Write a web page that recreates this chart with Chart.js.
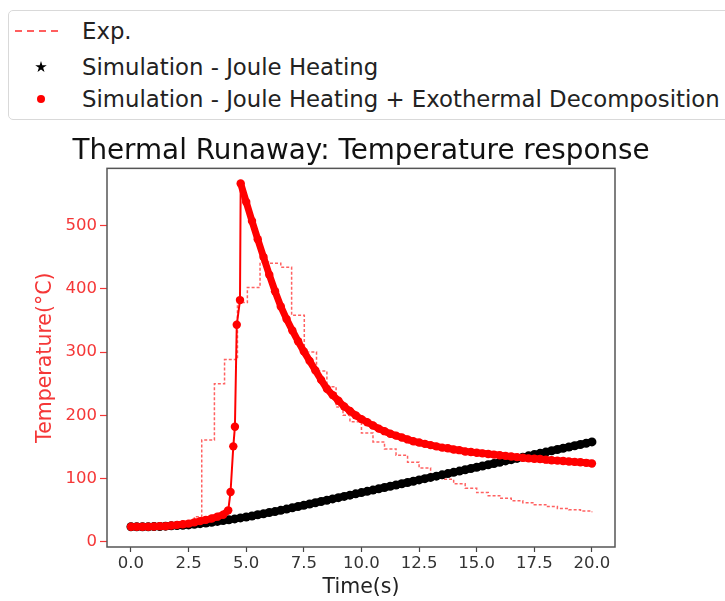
<!DOCTYPE html>
<html>
<head>
<meta charset="utf-8">
<script src="https://cdn.jsdelivr.net/npm/chart.js@4.4.1/dist/chart.umd.min.js"></script>
<style>
  body { margin: 0; background: #fff; font-family: "DejaVu Sans", sans-serif; }
  #wrap { position: relative; width: 725px; height: 601px; overflow: hidden; }
  #legend { position: absolute; left: 8px; top: 10px; width: 740px; height: 110px;
            border: 1px solid #d9d9d9; border-radius: 5px; box-sizing: border-box; background: #fff; }
  .row { position: absolute; left: 0; width: 730px; height: 30px; }
  .row .txt { position: absolute; left: 73px; top: 0; line-height: 30px; font-size: 22.8px; color: #222; white-space: nowrap; }
  .dash { position: absolute; left: 6px; top: 14px; width: 46px; height: 2px;
          background: repeating-linear-gradient(90deg, rgba(255,40,40,0.75) 0 7px, transparent 7px 12px); }
  .star { position: absolute; left: 26px; top: 9px; width: 12px; height: 12px; background: #000;
          clip-path: polygon(50% 0%, 61% 35%, 98% 35%, 68% 57%, 79% 91%, 50% 70%, 21% 91%, 32% 57%, 2% 35%, 39% 35%); }
  .dot { position: absolute; left: 28px; top: 11px; width: 8px; height: 8px; border-radius: 50%; background: #f00; }
  canvas { position: absolute; left: 0; top: 0; }
</style>
</head>
<body>
<div id="wrap">
  <canvas id="runawayChart" width="725" height="601"></canvas>
  <div id="legend">
    <div class="row" style="top:5px"><div class="dash"></div><span class="txt">Exp.</span></div>
    <div class="row" style="top:41px"><div class="star"></div><span class="txt">Simulation - Joule Heating</span></div>
    <div class="row" style="top:73px"><div class="dot"></div><span class="txt">Simulation - Joule Heating + Exothermal Decomposition</span></div>
  </div>
</div>
<script>
// values
const simTime = [0, 0.25, 0.5, 0.75, 1, 1.25, 1.5, 1.75, 2, 2.25, 2.5, 2.75, 3, 3.25, 3.5, 3.75, 4, 4.25, 4.5, 4.75,
  5, 5.25, 5.5, 5.75, 6, 6.25, 6.5, 6.75, 7, 7.25, 7.5, 7.75, 8, 8.25, 8.5, 8.75, 9, 9.25, 9.5, 9.75,
  10, 10.25, 10.5, 10.75, 11, 11.25, 11.5, 11.75, 12, 12.25, 12.5, 12.75, 13, 13.25, 13.5, 13.75, 14, 14.25, 14.5, 14.75,
  15, 15.25, 15.5, 15.75, 16, 16.25, 16.5, 16.75, 17, 17.25, 17.5, 17.75, 18, 18.25, 18.5, 18.75, 19, 19.25, 19.5, 19.75, 20];
const jouleTemp = [24, 24, 24, 24, 24.5, 24.5, 25, 25.5, 26, 26.5, 27, 28, 29, 30, 31, 32.5, 34, 35, 36.5, 38,
  39.5, 41, 43, 44.5, 46.5, 48, 50, 52, 54, 56, 58, 60, 62, 64, 66, 68, 70, 72, 74, 76,
  78, 80, 82, 84, 86, 88, 90, 92, 94, 96, 98, 100, 102, 104, 106, 108, 110, 112, 114, 116,
  118, 120, 122, 124, 126, 128, 130, 132, 134, 136, 138, 140, 142, 144, 146, 148, 150, 152, 154, 156, 158];

const exoTime = [0, 0.25, 0.5, 0.75, 1, 1.25, 1.5, 1.75, 2, 2.25, 2.5, 2.75, 3, 3.25, 3.5, 3.75, 4,
  4.22, 4.32, 4.44, 4.51, 4.59, 4.73, 4.76,
  5, 5.25, 5.5, 5.75, 6, 6.25, 6.5, 6.75, 7, 7.25, 7.5, 7.75, 8, 8.25, 8.5, 8.75, 9, 9.25, 9.5, 9.75,
  10, 10.25, 10.5, 10.75, 11, 11.25, 11.5, 11.75, 12, 12.25, 12.5, 12.75, 13, 13.25, 13.5, 13.75, 14, 14.25, 14.5, 14.75,
  15, 15.25, 15.5, 15.75, 16, 16.25, 16.5, 16.75, 17, 17.25, 17.5, 17.75, 18, 18.25, 18.5, 18.75, 19, 19.25, 19.5, 19.75, 20];
const exoTemp = [24, 24, 24, 24, 24.5, 25, 25, 26, 27, 28, 29, 31, 33, 35, 37, 40, 43,
  50, 79, 151, 182, 343, 382, 566,
  537, 507, 478, 450, 422, 396, 372, 352, 334, 317, 301, 286, 271, 256, 242, 232, 223, 214, 207, 200,
  194, 189, 184, 179, 175, 171, 168, 165, 162, 159, 157, 155, 153, 151, 149, 148, 146, 145, 143, 142,
  141, 140, 139, 138, 137, 136, 135, 134, 133, 132, 131.5, 131, 130, 129, 128.5, 128, 127, 126.5, 126, 125, 124];

// experiment, each value holds until the next time
const expTime = [0, 0.5, 1, 1.5, 2, 2.5, 2.75, 3.07, 3.62, 4.06, 4.62, 5.05, 5.6, 6.0, 6.5, 6.97, 7.52, 8.05, 8.5, 8.9, 9.2, 9.5,
  10, 10.5, 11, 11.5, 12, 12.5, 13, 13.5, 14, 14.5, 15, 15.5, 16, 16.5, 17, 17.5, 18, 18.5, 19, 19.5, 20];
const expTemp = [24, 24, 25, 26, 28, 33, 40, 161, 250, 288, 378, 402, 442, 440, 434, 358, 300, 270, 245, 213, 200, 190,
  172, 158, 147, 137, 126, 117, 107, 99, 92, 85, 78, 73, 69, 65, 62, 59, 56, 53, 51, 49, 47];

const xTicks = [0, 2.5, 5, 7.5, 10, 12.5, 15, 17.5, 20];
const yTicks = [0, 100, 200, 300, 400, 500];

const toPoints = (xs, ys) => xs.map((x, i) => ({ x: x, y: ys[i] }));

Chart.defaults.font.family = 'DejaVu Sans';

const frame = {
  id: 'frame',
  afterDatasetsDraw(chart) {
    const { ctx, chartArea } = chart;
    ctx.save();
    ctx.strokeStyle = '#555';
    ctx.lineWidth = 1.5;
    ctx.strokeRect(chartArea.left, chartArea.top, chartArea.right - chartArea.left, chartArea.bottom - chartArea.top);
    ctx.restore();
  }
};

// thin line where the curve jumps almost vertically, thick band elsewhere
const bandWidth = ctx => {
  const dx = Math.abs(ctx.p1.x - ctx.p0.x);
  const dy = Math.abs(ctx.p1.y - ctx.p0.y);
  return dy > 4 * dx ? 2 : 7;
};

const redTick = 'rgb(245,55,55)';

new Chart(document.getElementById('runawayChart'), {
  type: 'line',
  data: {
    datasets: [
      {
        label: 'Exp.',
        data: toPoints(expTime, expTemp),
        borderColor: 'rgba(255,30,30,0.7)',
        borderWidth: 1.5,
        borderDash: [3, 2],
        stepped: 'before',
        pointRadius: 0,
        order: 2
      },
      {
        label: 'Simulation - Joule Heating',
        data: toPoints(simTime, jouleTemp),
        borderColor: '#000',
        backgroundColor: '#000',
        borderWidth: 7,
        pointRadius: 4.5,
        pointBorderWidth: 0,
        order: 1
      },
      {
        label: 'Simulation - Joule Heating + Exothermal Decomposition',
        data: toPoints(exoTime, exoTemp),
        borderColor: '#f00',
        backgroundColor: '#f00',
        borderWidth: 7,
        segment: { borderWidth: bandWidth },
        pointRadius: 4.2,
        pointBorderWidth: 0,
        order: 0
      }
    ]
  },
  options: {
    responsive: false,
    animation: false,
    layout: { padding: { top: 135, left: 29, right: 32, bottom: 0 } },
    plugins: {
      legend: { display: false },
      tooltip: { enabled: false },
      title: {
        display: true,
        text: 'Thermal Runaway: Temperature response',
        color: '#111',
        font: { size: 27.8, weight: 'normal' },
        padding: { top: 0, bottom: 0 }
      }
    },
    scales: {
      x: {
        type: 'linear',
        min: -1.04,
        max: 21,
        afterBuildTicks: axis => { axis.ticks = xTicks.map(v => ({ value: v })); },
        afterFit: axis => { axis.height = 54; },
        grid: { drawOnChartArea: false, drawTicks: true, tickLength: 5, tickColor: '#444', tickWidth: 1.2 },
        border: { display: false },
        ticks: { padding: 2, color: '#333', font: { size: 16.5 }, maxRotation: 0, autoSkip: false,
                 callback: v => v.toFixed(1) },
        title: { display: true, text: 'Time(s)', color: '#222', font: { size: 20.5 }, padding: { top: 0, bottom: 1 } }
      },
      y: {
        type: 'linear',
        min: -7.9,
        max: 590,
        afterBuildTicks: axis => { axis.ticks = yTicks.map(v => ({ value: v })); },
        afterFit: axis => { axis.width = 78; },
        grid: { drawOnChartArea: false, drawTicks: true, tickLength: 7, tickColor: redTick, tickWidth: 1.2 },
        border: { display: false },
        ticks: { padding: 3, color: redTick, font: { size: 16.5 } },
        title: { display: true, text: 'Temperature(°C)', color: redTick, font: { size: 20.5 }, padding: { top: 4, bottom: 0 } }
      },
      // empty right-hand strip so the title centres over the plot, as in the original figure
      spacer: {
        type: 'linear',
        position: 'right',
        afterFit: axis => { axis.width = 78; },
        grid: { display: false },
        border: { display: false },
        ticks: { display: false }
      }
    }
  },
  plugins: [frame]
});
</script>
</body>
</html>
